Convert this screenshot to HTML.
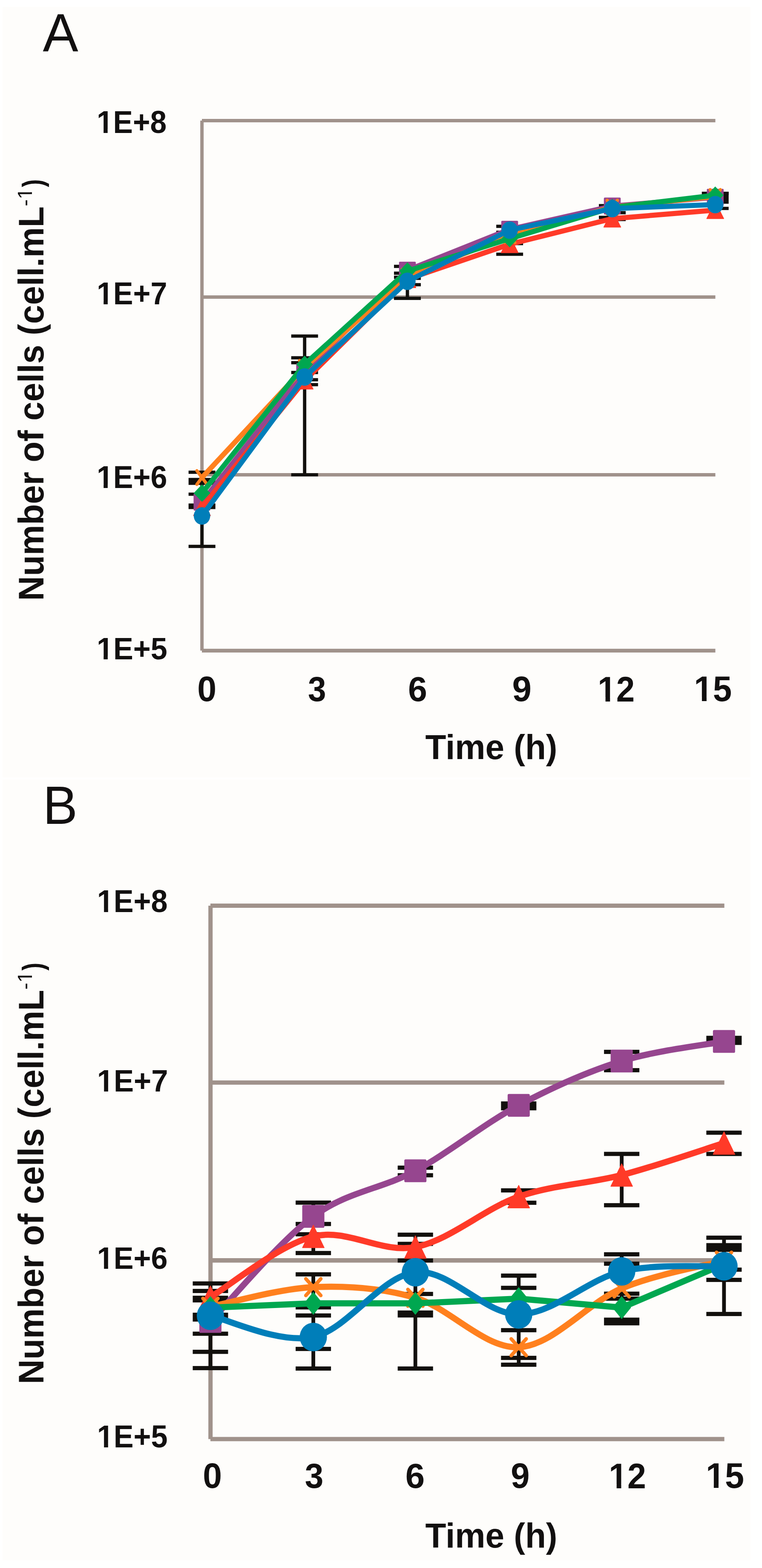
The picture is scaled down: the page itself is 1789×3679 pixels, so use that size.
<!DOCTYPE html>
<html><head><meta charset="utf-8"><title>Cell growth curves</title>
<style>html,body{margin:0;padding:0;background:#ffffff;}svg{display:block}</style></head>
<body><svg width="1789" height="3679" viewBox="0 0 1789 3679">
<rect width="1789" height="3679" fill="#ffffff"/>
<rect x="6.00" y="16.00" width="1756.00" height="1808.00" fill="#fefdfb"/>
<rect x="6.00" y="1829.00" width="1756.00" height="1832.00" fill="#fefdfb"/>
<rect x="474.00" y="279.00" width="1205.50" height="8.00" fill="#a0928b"/>
<rect x="474.00" y="693.00" width="1205.50" height="8.00" fill="#a0928b"/>
<rect x="474.00" y="1110.00" width="1205.50" height="8.00" fill="#a0928b"/>
<rect x="470.20" y="283.00" width="7.90" height="1243.50" fill="#a0928b"/>
<rect x="474.00" y="1522.20" width="1205.50" height="8.80" fill="#a0928b"/>
<rect x="470.30" y="1108.00" width="7.80" height="174.00" fill="#12100d"/>
<rect x="442.70" y="1104.20" width="63.00" height="7.60" fill="#12100d"/>
<rect x="442.70" y="1121.30" width="63.00" height="16.40" fill="#12100d"/>
<rect x="442.70" y="1155.70" width="63.00" height="7.60" fill="#12100d"/>
<rect x="442.70" y="1181.30" width="63.00" height="13.20" fill="#12100d"/>
<rect x="442.70" y="1278.20" width="63.00" height="7.60" fill="#12100d"/>
<rect x="711.30" y="788.50" width="7.80" height="325.50" fill="#12100d"/>
<rect x="683.70" y="784.70" width="63.00" height="7.60" fill="#12100d"/>
<rect x="683.70" y="835.70" width="63.00" height="7.60" fill="#12100d"/>
<rect x="683.70" y="847.20" width="63.00" height="7.60" fill="#12100d"/>
<rect x="683.70" y="870.20" width="63.00" height="7.60" fill="#12100d"/>
<rect x="683.70" y="887.20" width="63.00" height="7.60" fill="#12100d"/>
<rect x="683.70" y="898.70" width="63.00" height="7.60" fill="#12100d"/>
<rect x="683.70" y="1110.20" width="63.00" height="7.60" fill="#12100d"/>
<rect x="952.60" y="625.00" width="7.80" height="75.00" fill="#12100d"/>
<rect x="925.00" y="621.20" width="63.00" height="7.60" fill="#12100d"/>
<rect x="925.00" y="637.20" width="63.00" height="7.60" fill="#12100d"/>
<rect x="925.00" y="646.70" width="63.00" height="7.60" fill="#12100d"/>
<rect x="960.40" y="649.20" width="27.60" height="7.60" fill="#12100d"/>
<rect x="925.00" y="664.20" width="63.00" height="7.60" fill="#12100d"/>
<rect x="925.00" y="696.20" width="63.00" height="7.60" fill="#12100d"/>
<rect x="1192.70" y="531.00" width="7.80" height="65.50" fill="#12100d"/>
<rect x="1165.10" y="527.20" width="27.60" height="7.60" fill="#12100d"/>
<rect x="1165.10" y="541.20" width="27.60" height="7.60" fill="#12100d"/>
<rect x="1200.50" y="567.70" width="27.60" height="7.60" fill="#12100d"/>
<rect x="1165.10" y="592.70" width="63.00" height="7.60" fill="#12100d"/>
<rect x="1433.60" y="482.50" width="7.80" height="32.50" fill="#12100d"/>
<rect x="1406.00" y="478.70" width="27.60" height="7.60" fill="#12100d"/>
<rect x="1441.40" y="495.20" width="27.60" height="7.60" fill="#12100d"/>
<rect x="1406.00" y="506.20" width="27.60" height="7.60" fill="#12100d"/>
<rect x="1441.40" y="511.20" width="27.60" height="7.60" fill="#12100d"/>
<rect x="1675.30" y="453.50" width="7.80" height="35.50" fill="#12100d"/>
<rect x="1647.70" y="449.80" width="63.00" height="7.60" fill="#12100d"/>
<rect x="1683.10" y="450.00" width="27.60" height="28.00" fill="#12100d"/>
<rect x="1683.10" y="485.20" width="27.60" height="7.60" fill="#12100d"/>
<path d="M474.20,1178.00 L715.20,872.00 L956.50,634.00 L1196.60,538.00 L1437.50,483.50 L1679.20,463.00" stroke="#96468f" stroke-width="12" fill="none" stroke-linejoin="round" stroke-linecap="round"/>
<rect x="454.45" y="1158.00" width="39.50" height="40.00" rx="2.37" fill="#96468f"/>
<rect x="695.45" y="852.00" width="39.50" height="40.00" rx="2.37" fill="#96468f"/>
<rect x="936.75" y="614.00" width="39.50" height="40.00" rx="2.37" fill="#96468f"/>
<rect x="1176.85" y="518.00" width="39.50" height="40.00" rx="2.37" fill="#96468f"/>
<rect x="1417.75" y="463.50" width="39.50" height="40.00" rx="2.37" fill="#96468f"/>
<rect x="1659.45" y="443.00" width="39.50" height="40.00" rx="2.37" fill="#96468f"/>
<path d="M474.20,1190.00 L715.20,893.00 L956.50,655.00 L1196.60,573.00 L1437.50,513.00 L1679.20,493.00" stroke="#ff3a28" stroke-width="12" fill="none" stroke-linejoin="round" stroke-linecap="round"/>
<path d="M474.20,1170.00 L494.20,1210.00 L454.20,1210.00Z" fill="#ff3a28" stroke="#ff3a28" stroke-width="1.5" stroke-linejoin="round"/>
<path d="M715.20,873.00 L735.20,913.00 L695.20,913.00Z" fill="#ff3a28" stroke="#ff3a28" stroke-width="1.5" stroke-linejoin="round"/>
<path d="M956.50,635.00 L976.50,675.00 L936.50,675.00Z" fill="#ff3a28" stroke="#ff3a28" stroke-width="1.5" stroke-linejoin="round"/>
<path d="M1196.60,553.00 L1216.60,593.00 L1176.60,593.00Z" fill="#ff3a28" stroke="#ff3a28" stroke-width="1.5" stroke-linejoin="round"/>
<path d="M1437.50,493.00 L1457.50,533.00 L1417.50,533.00Z" fill="#ff3a28" stroke="#ff3a28" stroke-width="1.5" stroke-linejoin="round"/>
<path d="M1679.20,473.00 L1699.20,513.00 L1659.20,513.00Z" fill="#ff3a28" stroke="#ff3a28" stroke-width="1.5" stroke-linejoin="round"/>
<path d="M474.20,1120.50 L715.20,862.00 L956.50,648.00 L1196.60,553.00 L1437.50,486.00 L1679.20,461.00" stroke="#ff801e" stroke-width="12" fill="none" stroke-linejoin="round" stroke-linecap="round"/>
<path d="M462.20,1104.50 L486.20,1136.50 M486.20,1104.50 L462.20,1136.50" stroke="#ff801e" stroke-width="7.5" fill="none" stroke-linecap="round"/>
<path d="M703.20,846.00 L727.20,878.00 M727.20,846.00 L703.20,878.00" stroke="#ff801e" stroke-width="7.5" fill="none" stroke-linecap="round"/>
<path d="M944.50,632.00 L968.50,664.00 M968.50,632.00 L944.50,664.00" stroke="#ff801e" stroke-width="7.5" fill="none" stroke-linecap="round"/>
<path d="M1184.60,537.00 L1208.60,569.00 M1208.60,537.00 L1184.60,569.00" stroke="#ff801e" stroke-width="7.5" fill="none" stroke-linecap="round"/>
<path d="M1425.50,470.00 L1449.50,502.00 M1449.50,470.00 L1425.50,502.00" stroke="#ff801e" stroke-width="7.5" fill="none" stroke-linecap="round"/>
<path d="M1667.20,445.00 L1691.20,477.00 M1691.20,445.00 L1667.20,477.00" stroke="#ff801e" stroke-width="7.5" fill="none" stroke-linecap="round"/>
<path d="M474.20,1157.00 L715.20,855.00 L956.50,636.00 L1196.60,560.00 L1437.50,487.00 L1679.20,458.00" stroke="#00a750" stroke-width="12" fill="none" stroke-linejoin="round" stroke-linecap="round"/>
<path d="M474.20,1136.50 L493.70,1157.00 L474.20,1177.50 L454.70,1157.00Z" fill="#00a750"/>
<path d="M715.20,834.50 L734.70,855.00 L715.20,875.50 L695.70,855.00Z" fill="#00a750"/>
<path d="M956.50,615.50 L976.00,636.00 L956.50,656.50 L937.00,636.00Z" fill="#00a750"/>
<path d="M1196.60,539.50 L1216.10,560.00 L1196.60,580.50 L1177.10,560.00Z" fill="#00a750"/>
<path d="M1437.50,466.50 L1457.00,487.00 L1437.50,507.50 L1418.00,487.00Z" fill="#00a750"/>
<path d="M1679.20,437.50 L1698.70,458.00 L1679.20,478.50 L1659.70,458.00Z" fill="#00a750"/>
<path d="M474.20,1210.50 L715.20,884.50 L956.50,660.00 L1196.60,540.00 L1437.50,489.50 L1679.20,480.00" stroke="#007eb9" stroke-width="12" fill="none" stroke-linejoin="round" stroke-linecap="round"/>
<ellipse cx="474.20" cy="1210.50" rx="19.30" ry="20.50" fill="#007eb9"/>
<ellipse cx="715.20" cy="884.50" rx="19.30" ry="20.50" fill="#007eb9"/>
<ellipse cx="956.50" cy="660.00" rx="19.30" ry="20.50" fill="#007eb9"/>
<ellipse cx="1196.60" cy="540.00" rx="19.30" ry="20.50" fill="#007eb9"/>
<ellipse cx="1437.50" cy="489.50" rx="19.30" ry="20.50" fill="#007eb9"/>
<ellipse cx="1679.20" cy="480.00" rx="19.30" ry="20.50" fill="#007eb9"/>
<rect x="494.00" y="2120.00" width="1206.60" height="10.00" fill="#a0928b"/>
<rect x="494.00" y="2535.00" width="1206.60" height="10.00" fill="#a0928b"/>
<rect x="494.00" y="2952.00" width="1206.60" height="10.50" fill="#a0928b"/>
<rect x="489.20" y="2125.00" width="10.00" height="1251.50" fill="#a0928b"/>
<rect x="494.00" y="3371.50" width="1206.60" height="10.00" fill="#a0928b"/>
<rect x="489.60" y="3011.40" width="8.80" height="198.60" fill="#12100d"/>
<rect x="452.50" y="3006.50" width="83.00" height="9.80" fill="#12100d"/>
<rect x="452.50" y="3024.10" width="83.00" height="9.80" fill="#12100d"/>
<rect x="452.50" y="3040.10" width="83.00" height="15.80" fill="#12100d"/>
<rect x="452.50" y="3079.95" width="83.00" height="20.90" fill="#12100d"/>
<rect x="452.50" y="3124.40" width="83.00" height="9.80" fill="#12100d"/>
<rect x="452.50" y="3166.90" width="83.00" height="9.80" fill="#12100d"/>
<rect x="452.50" y="3205.10" width="83.00" height="9.80" fill="#12100d"/>
<rect x="731.20" y="2821.70" width="8.80" height="50.10" fill="#12100d"/>
<rect x="731.20" y="2896.00" width="8.80" height="44.00" fill="#12100d"/>
<rect x="731.20" y="2990.00" width="8.80" height="221.00" fill="#12100d"/>
<rect x="694.10" y="2816.80" width="83.00" height="9.80" fill="#12100d"/>
<rect x="694.10" y="2866.90" width="83.00" height="9.80" fill="#12100d"/>
<rect x="694.10" y="2891.10" width="83.00" height="9.80" fill="#12100d"/>
<rect x="694.10" y="2935.10" width="83.00" height="9.80" fill="#12100d"/>
<rect x="694.10" y="2985.10" width="83.00" height="9.80" fill="#12100d"/>
<rect x="694.10" y="3062.60" width="83.00" height="9.80" fill="#12100d"/>
<rect x="694.10" y="3081.60" width="83.00" height="9.80" fill="#12100d"/>
<rect x="694.10" y="3160.10" width="83.00" height="9.80" fill="#12100d"/>
<rect x="694.10" y="3206.10" width="83.00" height="9.80" fill="#12100d"/>
<rect x="970.80" y="2739.70" width="8.80" height="17.80" fill="#12100d"/>
<rect x="970.80" y="2897.00" width="8.80" height="314.00" fill="#12100d"/>
<rect x="933.70" y="2734.80" width="83.00" height="9.80" fill="#12100d"/>
<rect x="933.70" y="2752.60" width="83.00" height="9.80" fill="#12100d"/>
<rect x="933.70" y="2892.10" width="83.00" height="9.80" fill="#12100d"/>
<rect x="933.70" y="2913.60" width="83.00" height="9.80" fill="#12100d"/>
<rect x="933.70" y="2952.60" width="83.00" height="9.80" fill="#12100d"/>
<rect x="933.70" y="3031.10" width="83.00" height="9.80" fill="#12100d"/>
<rect x="933.70" y="3074.75" width="83.00" height="16.50" fill="#12100d"/>
<rect x="933.70" y="3206.10" width="83.00" height="9.80" fill="#12100d"/>
<rect x="1213.40" y="2590.00" width="8.80" height="9.00" fill="#12100d"/>
<rect x="1213.40" y="2793.00" width="8.80" height="29.00" fill="#12100d"/>
<rect x="1213.40" y="2993.00" width="8.80" height="209.00" fill="#12100d"/>
<rect x="1176.30" y="2584.20" width="83.00" height="21.00" fill="#12100d"/>
<rect x="1176.30" y="2788.10" width="83.00" height="9.80" fill="#12100d"/>
<rect x="1176.30" y="2817.10" width="83.00" height="9.80" fill="#12100d"/>
<rect x="1176.30" y="2988.10" width="83.00" height="9.80" fill="#12100d"/>
<rect x="1176.30" y="3016.80" width="83.00" height="9.80" fill="#12100d"/>
<rect x="1176.30" y="3116.10" width="83.00" height="9.80" fill="#12100d"/>
<rect x="1176.30" y="3181.10" width="83.00" height="9.80" fill="#12100d"/>
<rect x="1176.30" y="3197.10" width="83.00" height="9.80" fill="#12100d"/>
<rect x="1455.20" y="2468.00" width="8.80" height="43.00" fill="#12100d"/>
<rect x="1455.20" y="2707.40" width="8.80" height="120.40" fill="#12100d"/>
<rect x="1455.20" y="2943.00" width="8.80" height="162.00" fill="#12100d"/>
<rect x="1418.10" y="2463.10" width="83.00" height="9.80" fill="#12100d"/>
<rect x="1418.10" y="2506.10" width="83.00" height="9.80" fill="#12100d"/>
<rect x="1418.10" y="2702.50" width="83.00" height="9.80" fill="#12100d"/>
<rect x="1418.10" y="2822.90" width="83.00" height="9.80" fill="#12100d"/>
<rect x="1418.10" y="2938.10" width="83.00" height="9.80" fill="#12100d"/>
<rect x="1418.10" y="2960.10" width="83.00" height="9.80" fill="#12100d"/>
<rect x="1418.10" y="3030.50" width="83.00" height="9.80" fill="#12100d"/>
<rect x="1418.10" y="3042.10" width="83.00" height="9.80" fill="#12100d"/>
<rect x="1418.10" y="3091.50" width="83.00" height="18.20" fill="#12100d"/>
<rect x="1695.40" y="2436.50" width="8.80" height="9.00" fill="#12100d"/>
<rect x="1695.40" y="2657.60" width="8.80" height="49.90" fill="#12100d"/>
<rect x="1695.40" y="2904.00" width="8.80" height="179.00" fill="#12100d"/>
<rect x="1658.30" y="2430.25" width="83.00" height="21.50" fill="#12100d"/>
<rect x="1658.30" y="2652.70" width="83.00" height="9.80" fill="#12100d"/>
<rect x="1658.30" y="2702.60" width="83.00" height="9.80" fill="#12100d"/>
<rect x="1658.30" y="2899.10" width="83.00" height="9.80" fill="#12100d"/>
<rect x="1658.30" y="2916.65" width="83.00" height="20.70" fill="#12100d"/>
<rect x="1704.20" y="2974.10" width="37.10" height="9.80" fill="#12100d"/>
<rect x="1658.30" y="2998.10" width="83.00" height="9.80" fill="#12100d"/>
<rect x="1658.30" y="3078.10" width="83.00" height="9.80" fill="#12100d"/>
<path d="M494.00,3100.50 C534.27,3059.42 655.40,2912.92 735.60,2854.00 C815.80,2795.08 894.83,2790.43 975.20,2747.00 C1055.57,2703.57 1137.07,2636.32 1217.80,2593.40 C1298.53,2550.48 1379.27,2514.47 1459.60,2489.50 C1539.93,2464.53 1659.77,2451.25 1699.80,2443.60" stroke="#96468f" stroke-width="14.5" fill="none" stroke-linejoin="round" stroke-linecap="round"/>
<rect x="468.00" y="3073.75" width="52.00" height="53.50" rx="3.12" fill="#96468f"/>
<rect x="709.60" y="2827.25" width="52.00" height="53.50" rx="3.12" fill="#96468f"/>
<rect x="949.20" y="2720.25" width="52.00" height="53.50" rx="3.12" fill="#96468f"/>
<rect x="1191.80" y="2566.65" width="52.00" height="53.50" rx="3.12" fill="#96468f"/>
<rect x="1433.60" y="2462.75" width="52.00" height="53.50" rx="3.12" fill="#96468f"/>
<rect x="1673.80" y="2416.85" width="52.00" height="53.50" rx="3.12" fill="#96468f"/>
<path d="M494.00,3043.50 C534.27,3019.75 655.40,2920.58 735.60,2901.00 C815.80,2881.42 894.83,2941.55 975.20,2926.00 C1055.57,2910.45 1137.07,2835.87 1217.80,2807.70 C1298.53,2779.53 1379.27,2777.95 1459.60,2757.00 C1539.93,2736.05 1659.77,2694.50 1699.80,2682.00" stroke="#ff3a28" stroke-width="14.5" fill="none" stroke-linejoin="round" stroke-linecap="round"/>
<path d="M494.00,3017.00 L519.50,3070.00 L468.50,3070.00Z" fill="#ff3a28" stroke="#ff3a28" stroke-width="1.5" stroke-linejoin="round"/>
<path d="M735.60,2874.50 L761.10,2927.50 L710.10,2927.50Z" fill="#ff3a28" stroke="#ff3a28" stroke-width="1.5" stroke-linejoin="round"/>
<path d="M975.20,2899.50 L1000.70,2952.50 L949.70,2952.50Z" fill="#ff3a28" stroke="#ff3a28" stroke-width="1.5" stroke-linejoin="round"/>
<path d="M1217.80,2781.20 L1243.30,2834.20 L1192.30,2834.20Z" fill="#ff3a28" stroke="#ff3a28" stroke-width="1.5" stroke-linejoin="round"/>
<path d="M1459.60,2730.50 L1485.10,2783.50 L1434.10,2783.50Z" fill="#ff3a28" stroke="#ff3a28" stroke-width="1.5" stroke-linejoin="round"/>
<path d="M1699.80,2655.50 L1725.30,2708.50 L1674.30,2708.50Z" fill="#ff3a28" stroke="#ff3a28" stroke-width="1.5" stroke-linejoin="round"/>
<path d="M494.00,3066.00 C534.27,3058.33 655.40,3023.50 735.60,3020.00 C815.80,3016.50 894.83,3021.50 975.20,3045.00 C1055.57,3068.50 1137.07,3164.67 1217.80,3161.00 C1298.53,3157.33 1379.27,3056.83 1459.60,3023.00 C1539.93,2989.17 1659.77,2968.83 1699.80,2958.00" stroke="#ff801e" stroke-width="14.5" fill="none" stroke-linejoin="round" stroke-linecap="round"/>
<path d="M476.50,3046.50 L511.50,3085.50 M511.50,3046.50 L476.50,3085.50" stroke="#ff801e" stroke-width="8.5" fill="none" stroke-linecap="round"/>
<path d="M718.10,3000.50 L753.10,3039.50 M753.10,3000.50 L718.10,3039.50" stroke="#ff801e" stroke-width="8.5" fill="none" stroke-linecap="round"/>
<path d="M957.70,3025.50 L992.70,3064.50 M992.70,3025.50 L957.70,3064.50" stroke="#ff801e" stroke-width="8.5" fill="none" stroke-linecap="round"/>
<path d="M1200.30,3141.50 L1235.30,3180.50 M1235.30,3141.50 L1200.30,3180.50" stroke="#ff801e" stroke-width="8.5" fill="none" stroke-linecap="round"/>
<path d="M1442.10,3003.50 L1477.10,3042.50 M1477.10,3003.50 L1442.10,3042.50" stroke="#ff801e" stroke-width="8.5" fill="none" stroke-linecap="round"/>
<path d="M1682.30,2938.50 L1717.30,2977.50 M1717.30,2938.50 L1682.30,2977.50" stroke="#ff801e" stroke-width="8.5" fill="none" stroke-linecap="round"/>
<path d="M494.00,3068.00 L735.60,3058.00 L975.20,3058.00 L1217.80,3047.00 L1459.60,3068.00 L1699.80,2966.00" stroke="#00a750" stroke-width="14.5" fill="none" stroke-linejoin="round" stroke-linecap="round"/>
<path d="M494.00,3041.00 L516.00,3068.00 L494.00,3095.00 L472.00,3068.00Z" fill="#00a750"/>
<path d="M735.60,3031.00 L757.60,3058.00 L735.60,3085.00 L713.60,3058.00Z" fill="#00a750"/>
<path d="M975.20,3031.00 L997.20,3058.00 L975.20,3085.00 L953.20,3058.00Z" fill="#00a750"/>
<path d="M1217.80,3020.00 L1239.80,3047.00 L1217.80,3074.00 L1195.80,3047.00Z" fill="#00a750"/>
<path d="M1459.60,3041.00 L1481.60,3068.00 L1459.60,3095.00 L1437.60,3068.00Z" fill="#00a750"/>
<path d="M1699.80,2939.00 L1721.80,2966.00 L1699.80,2993.00 L1677.80,2966.00Z" fill="#00a750"/>
<path d="M494.00,3087.00 C534.27,3095.33 655.40,3154.00 735.60,3137.00 C815.80,3120.00 894.83,2993.83 975.20,2985.00 C1055.57,2976.17 1137.07,3084.33 1217.80,3084.00 C1298.53,3083.67 1379.27,3001.83 1459.60,2983.00 C1539.93,2964.17 1659.77,2973.00 1699.80,2971.00" stroke="#007eb9" stroke-width="14.5" fill="none" stroke-linejoin="round" stroke-linecap="round"/>
<ellipse cx="494.00" cy="3087.00" rx="32.00" ry="33.50" fill="#007eb9"/>
<ellipse cx="735.60" cy="3137.00" rx="32.00" ry="33.50" fill="#007eb9"/>
<ellipse cx="975.20" cy="2985.00" rx="32.00" ry="33.50" fill="#007eb9"/>
<ellipse cx="1217.80" cy="3084.00" rx="32.00" ry="33.50" fill="#007eb9"/>
<ellipse cx="1459.60" cy="2983.00" rx="32.00" ry="33.50" fill="#007eb9"/>
<ellipse cx="1699.80" cy="2971.00" rx="32.00" ry="33.50" fill="#007eb9"/>
<g transform="matrix(1.03974 0 0 1.04458 100.460 119.700)"><text x="0" y="0" font-family="Liberation Sans, Arial, sans-serif" font-weight="normal" font-size="120" fill="#121010" >A</text></g>
<g transform="matrix(1.01563 0 0 1.04699 100.644 1932.800)"><text x="0" y="0" font-family="Liberation Sans, Arial, sans-serif" font-weight="normal" font-size="120" fill="#121010" >B</text></g>
<g transform="matrix(0.99304 0 0 1.04653 226.935 311.500)"><text x="0" y="0" font-family="Liberation Sans, Arial, sans-serif" font-weight="bold" font-size="70" fill="#121010" >1E+8</text><rect x="3.555" y="-7.759" width="12.783" height="9.126" fill="#fefdfb"/><rect x="25.942" y="-7.759" width="11.895" height="9.126" fill="#fefdfb"/></g>
<g transform="matrix(1.00127 0 0 1.05068 226.894 713.700)"><text x="0" y="0" font-family="Liberation Sans, Arial, sans-serif" font-weight="bold" font-size="70" fill="#121010" >1E+7</text><rect x="3.555" y="-7.759" width="12.783" height="9.126" fill="#fefdfb"/><rect x="25.942" y="-7.759" width="11.895" height="9.126" fill="#fefdfb"/></g>
<g transform="matrix(1.00063 0 0 1.05068 226.897 1144.600)"><text x="0" y="0" font-family="Liberation Sans, Arial, sans-serif" font-weight="bold" font-size="70" fill="#121010" >1E+6</text><rect x="3.555" y="-7.759" width="12.783" height="9.126" fill="#fefdfb"/><rect x="25.942" y="-7.759" width="11.895" height="9.126" fill="#fefdfb"/></g>
<g transform="matrix(1.00316 0 0 1.03407 226.884 1546.700)"><text x="0" y="0" font-family="Liberation Sans, Arial, sans-serif" font-weight="bold" font-size="70" fill="#121010" >1E+5</text><rect x="3.555" y="-7.759" width="12.783" height="9.126" fill="#fefdfb"/><rect x="25.942" y="-7.759" width="11.895" height="9.126" fill="#fefdfb"/></g>
<g transform="matrix(1.00253 0 0 1.05484 227.787 2139.900)"><text x="0" y="0" font-family="Liberation Sans, Arial, sans-serif" font-weight="bold" font-size="70" fill="#121010" >1E+8</text><rect x="3.555" y="-7.759" width="12.783" height="9.126" fill="#fefdfb"/><rect x="25.942" y="-7.759" width="11.895" height="9.126" fill="#fefdfb"/></g>
<g transform="matrix(1.00892 0 0 1.02784 227.755 2560.700)"><text x="0" y="0" font-family="Liberation Sans, Arial, sans-serif" font-weight="bold" font-size="70" fill="#121010" >1E+7</text><rect x="3.555" y="-7.759" width="12.783" height="9.126" fill="#fefdfb"/><rect x="25.942" y="-7.759" width="11.895" height="9.126" fill="#fefdfb"/></g>
<g transform="matrix(1.00253 0 0 1.04445 227.787 2976.700)"><text x="0" y="0" font-family="Liberation Sans, Arial, sans-serif" font-weight="bold" font-size="70" fill="#121010" >1E+6</text><rect x="3.555" y="-7.759" width="12.783" height="9.126" fill="#fefdfb"/><rect x="25.942" y="-7.759" width="11.895" height="9.126" fill="#fefdfb"/></g>
<g transform="matrix(1.00253 0 0 1.05068 227.787 3395.900)"><text x="0" y="0" font-family="Liberation Sans, Arial, sans-serif" font-weight="bold" font-size="70" fill="#121010" >1E+5</text><rect x="3.555" y="-7.759" width="12.783" height="9.126" fill="#fefdfb"/><rect x="25.942" y="-7.759" width="11.895" height="9.126" fill="#fefdfb"/></g>
<g transform="matrix(1.01053 0 0 1.03571 463.268 1644.664)"><text x="0" y="0" font-family="Liberation Sans, Arial, sans-serif" font-weight="bold" font-size="80" fill="#121010" >0</text></g>
<g transform="matrix(0.95750 0 0 1.01754 723.085 1644.682)"><text x="0" y="0" font-family="Liberation Sans, Arial, sans-serif" font-weight="bold" font-size="80" fill="#121010" >3</text></g>
<g transform="matrix(1.00769 0 0 1.01754 957.977 1644.682)"><text x="0" y="0" font-family="Liberation Sans, Arial, sans-serif" font-weight="bold" font-size="80" fill="#121010" >6</text></g>
<g transform="matrix(1.02105 0 0 1.03571 1202.537 1644.664)"><text x="0" y="0" font-family="Liberation Sans, Arial, sans-serif" font-weight="bold" font-size="80" fill="#121010" >9</text></g>
<g transform="matrix(0.97531 0 0 1.03571 1403.323 1645.700)"><text x="0" y="0" font-family="Liberation Sans, Arial, sans-serif" font-weight="bold" font-size="80" fill="#121010" >12</text><rect x="4.062" y="-8.867" width="14.609" height="10.430" fill="#fefdfb"/><rect x="29.648" y="-8.867" width="13.594" height="10.430" fill="#fefdfb"/></g>
<g transform="matrix(0.99756 0 0 1.03571 1629.312 1644.664)"><text x="0" y="0" font-family="Liberation Sans, Arial, sans-serif" font-weight="bold" font-size="80" fill="#121010" >15</text><rect x="4.062" y="-8.867" width="14.609" height="10.430" fill="#fefdfb"/><rect x="29.648" y="-8.867" width="13.594" height="10.430" fill="#fefdfb"/></g>
<g transform="matrix(1.00789 0 0 1.04286 476.276 3490.757)"><text x="0" y="0" font-family="Liberation Sans, Arial, sans-serif" font-weight="bold" font-size="80" fill="#121010" >0</text></g>
<g transform="matrix(0.98000 0 0 1.02456 715.840 3490.775)"><text x="0" y="0" font-family="Liberation Sans, Arial, sans-serif" font-weight="bold" font-size="80" fill="#121010" >3</text></g>
<g transform="matrix(1.02051 0 0 1.02456 951.738 3490.775)"><text x="0" y="0" font-family="Liberation Sans, Arial, sans-serif" font-weight="bold" font-size="80" fill="#121010" >6</text></g>
<g transform="matrix(0.99474 0 0 1.04286 1199.216 3490.757)"><text x="0" y="0" font-family="Liberation Sans, Arial, sans-serif" font-weight="bold" font-size="80" fill="#121010" >9</text></g>
<g transform="matrix(0.98519 0 0 1.04286 1429.274 3491.800)"><text x="0" y="0" font-family="Liberation Sans, Arial, sans-serif" font-weight="bold" font-size="80" fill="#121010" >12</text><rect x="4.062" y="-8.867" width="14.609" height="10.430" fill="#fefdfb"/><rect x="29.648" y="-8.867" width="13.594" height="10.430" fill="#fefdfb"/></g>
<g transform="matrix(1.01220 0 0 1.04286 1656.939 3490.757)"><text x="0" y="0" font-family="Liberation Sans, Arial, sans-serif" font-weight="bold" font-size="80" fill="#121010" >15</text><rect x="4.062" y="-8.867" width="14.609" height="10.430" fill="#fefdfb"/><rect x="29.648" y="-8.867" width="13.594" height="10.430" fill="#fefdfb"/></g>
<g transform="matrix(1.00098 0 0 1.02619 998.599 1780.900)"><text x="0" y="0" font-family="Liberation Sans, Arial, sans-serif" font-weight="bold" font-size="80" fill="#121010" >Time (h)</text></g>
<g transform="matrix(1.00098 0 0 1.02619 998.599 3631.000)"><text x="0" y="0" font-family="Liberation Sans, Arial, sans-serif" font-weight="bold" font-size="80" fill="#121010" >Time (h)</text></g>
<g transform="matrix(0 -1.00044 1.04290 0 101.800 1409.402)"><text x="0" y="0" font-family="Liberation Sans, Arial, sans-serif" font-weight="bold" font-size="80" fill="#121010" >Number of cells (cell.mL</text></g>
<g transform="matrix(0 -1.06207 1.03438 0 74.900 483.924)"><text x="0" y="0" font-family="Liberation Sans, Arial, sans-serif" font-weight="normal" font-size="46" fill="#121010" >-1</text><rect x="18.261" y="-3.841" width="8.625" height="4.739" fill="#fefdfb"/><rect x="30.951" y="-3.841" width="8.266" height="4.739" fill="#fefdfb"/></g>
<g transform="matrix(0 -0.80000 0.98636 0 101.405 439.100)"><text x="0" y="0" font-family="Liberation Sans, Arial, sans-serif" font-weight="bold" font-size="70" fill="#121010" >)</text></g>
<g transform="matrix(0 -1.00044 1.04290 0 101.800 3247.602)"><text x="0" y="0" font-family="Liberation Sans, Arial, sans-serif" font-weight="bold" font-size="80" fill="#121010" >Number of cells (cell.mL</text></g>
<g transform="matrix(0 -1.06207 1.03438 0 74.900 2322.124)"><text x="0" y="0" font-family="Liberation Sans, Arial, sans-serif" font-weight="normal" font-size="46" fill="#121010" >-1</text><rect x="18.261" y="-3.841" width="8.625" height="4.739" fill="#fefdfb"/><rect x="30.951" y="-3.841" width="8.266" height="4.739" fill="#fefdfb"/></g>
<g transform="matrix(0 -0.80000 0.98636 0 101.405 2277.300)"><text x="0" y="0" font-family="Liberation Sans, Arial, sans-serif" font-weight="bold" font-size="70" fill="#121010" >)</text></g>
</svg></body></html>
